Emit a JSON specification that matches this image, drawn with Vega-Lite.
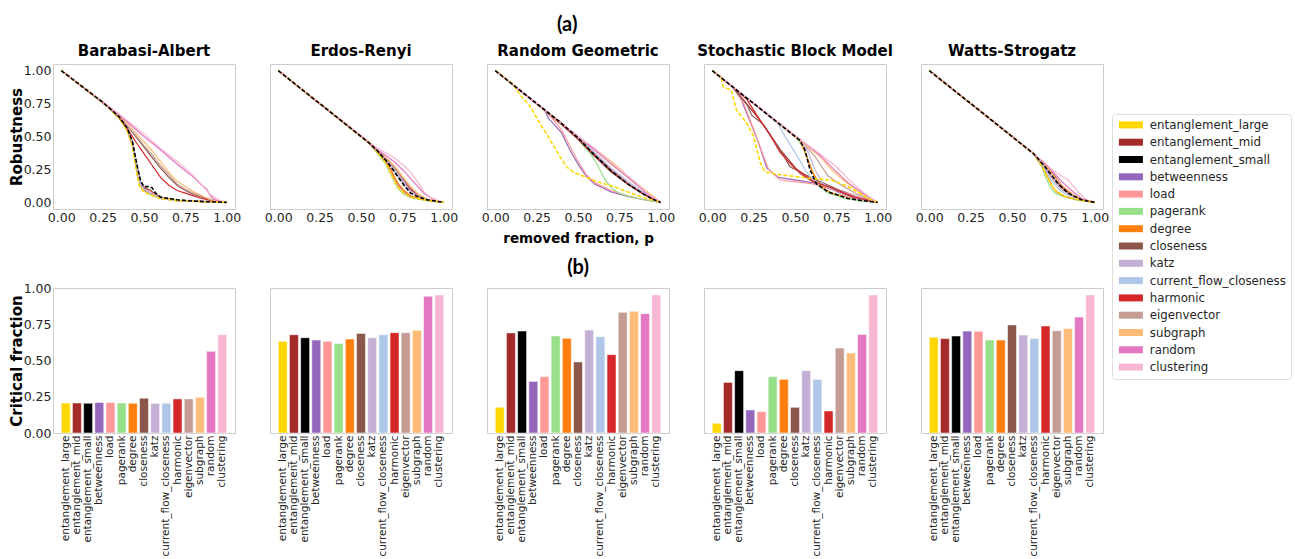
{
"$schema":"https://vega.github.io/schema/vega-lite/v6.json",
"autosize":{"type":"pad"},
"padding":{"left":8,"top":14,"right":4,"bottom":0},
"title":{"text":"(a)","font":"Lato","fontSize":20,"fontWeight":"bold","color":"#000000","anchor":"start","frame":"group","offset":9,"dx":504},
"datasets":{
"bars":[
{"g":"BA","m":"entanglement_large","cf":0.207},{"g":"BA","m":"entanglement_mid","cf":0.207},{"g":"BA","m":"entanglement_small","cf":0.205},{"g":"BA","m":"betweenness","cf":0.21},{"g":"BA","m":"load","cf":0.21},{"g":"BA","m":"pagerank","cf":0.207},{"g":"BA","m":"degree","cf":0.205},{"g":"BA","m":"closeness","cf":0.24},{"g":"BA","m":"katz","cf":0.205},{"g":"BA","m":"current_flow_closeness","cf":0.205},{"g":"BA","m":"harmonic","cf":0.235},{"g":"BA","m":"eigenvector","cf":0.235},{"g":"BA","m":"subgraph","cf":0.246},{"g":"BA","m":"random","cf":0.563},{"g":"BA","m":"clustering","cf":0.678},
{"g":"ER","m":"entanglement_large","cf":0.632},{"g":"ER","m":"entanglement_mid","cf":0.678},{"g":"ER","m":"entanglement_small","cf":0.657},{"g":"ER","m":"betweenness","cf":0.641},{"g":"ER","m":"load","cf":0.632},{"g":"ER","m":"pagerank","cf":0.618},{"g":"ER","m":"degree","cf":0.648},{"g":"ER","m":"closeness","cf":0.687},{"g":"ER","m":"katz","cf":0.657},{"g":"ER","m":"current_flow_closeness","cf":0.678},{"g":"ER","m":"harmonic","cf":0.692},{"g":"ER","m":"eigenvector","cf":0.692},{"g":"ER","m":"subgraph","cf":0.708},{"g":"ER","m":"random","cf":0.943},{"g":"ER","m":"clustering","cf":0.952},
{"g":"RG","m":"entanglement_large","cf":0.177},{"g":"RG","m":"entanglement_mid","cf":0.69},{"g":"RG","m":"entanglement_small","cf":0.703},{"g":"RG","m":"betweenness","cf":0.356},{"g":"RG","m":"load","cf":0.389},{"g":"RG","m":"pagerank","cf":0.669},{"g":"RG","m":"degree","cf":0.653},{"g":"RG","m":"closeness","cf":0.49},{"g":"RG","m":"katz","cf":0.71},{"g":"RG","m":"current_flow_closeness","cf":0.664},{"g":"RG","m":"harmonic","cf":0.54},{"g":"RG","m":"eigenvector","cf":0.832},{"g":"RG","m":"subgraph","cf":0.839},{"g":"RG","m":"random","cf":0.823},{"g":"RG","m":"clustering","cf":0.952},
{"g":"SBM","m":"entanglement_large","cf":0.067},{"g":"SBM","m":"entanglement_mid","cf":0.349},{"g":"SBM","m":"entanglement_small","cf":0.43},{"g":"SBM","m":"betweenness","cf":0.159},{"g":"SBM","m":"load","cf":0.147},{"g":"SBM","m":"pagerank","cf":0.389},{"g":"SBM","m":"degree","cf":0.37},{"g":"SBM","m":"closeness","cf":0.177},{"g":"SBM","m":"katz","cf":0.43},{"g":"SBM","m":"current_flow_closeness","cf":0.37},{"g":"SBM","m":"harmonic","cf":0.152},{"g":"SBM","m":"eigenvector","cf":0.586},{"g":"SBM","m":"subgraph","cf":0.552},{"g":"SBM","m":"random","cf":0.68},{"g":"SBM","m":"clustering","cf":0.952},
{"g":"WS","m":"entanglement_large","cf":0.66},{"g":"WS","m":"entanglement_mid","cf":0.651},{"g":"WS","m":"entanglement_small","cf":0.669},{"g":"WS","m":"betweenness","cf":0.703},{"g":"WS","m":"load","cf":0.701},{"g":"WS","m":"pagerank","cf":0.641},{"g":"WS","m":"degree","cf":0.641},{"g":"WS","m":"closeness","cf":0.745},{"g":"WS","m":"katz","cf":0.676},{"g":"WS","m":"current_flow_closeness","cf":0.651},{"g":"WS","m":"harmonic","cf":0.738},{"g":"WS","m":"eigenvector","cf":0.706},{"g":"WS","m":"subgraph","cf":0.72},{"g":"WS","m":"random","cf":0.8},{"g":"WS","m":"clustering","cf":0.952}
],
"lines":[
{"g":"BA","m":"entanglement_large","p":0,"r":1},{"g":"BA","m":"entanglement_large","p":0.25,"r":0.76},{"g":"BA","m":"entanglement_large","p":0.35,"r":0.64},{"g":"BA","m":"entanglement_large","p":0.4,"r":0.54},{"g":"BA","m":"entanglement_large","p":0.43,"r":0.43},{"g":"BA","m":"entanglement_large","p":0.45,"r":0.26},{"g":"BA","m":"entanglement_large","p":0.47,"r":0.13},{"g":"BA","m":"entanglement_large","p":0.5,"r":0.08},{"g":"BA","m":"entanglement_large","p":0.55,"r":0.05},{"g":"BA","m":"entanglement_large","p":0.6,"r":0.03},{"g":"BA","m":"entanglement_large","p":0.7,"r":0.015},{"g":"BA","m":"entanglement_large","p":0.85,"r":0.005},{"g":"BA","m":"entanglement_large","p":1,"r":0},
{"g":"BA","m":"entanglement_mid","p":0,"r":1},{"g":"BA","m":"entanglement_mid","p":0.25,"r":0.76},{"g":"BA","m":"entanglement_mid","p":0.35,"r":0.65},{"g":"BA","m":"entanglement_mid","p":0.4,"r":0.56},{"g":"BA","m":"entanglement_mid","p":0.43,"r":0.46},{"g":"BA","m":"entanglement_mid","p":0.46,"r":0.26},{"g":"BA","m":"entanglement_mid","p":0.48,"r":0.15},{"g":"BA","m":"entanglement_mid","p":0.5,"r":0.11},{"g":"BA","m":"entanglement_mid","p":0.54,"r":0.09},{"g":"BA","m":"entanglement_mid","p":0.57,"r":0.06},{"g":"BA","m":"entanglement_mid","p":0.62,"r":0.03},{"g":"BA","m":"entanglement_mid","p":0.7,"r":0.015},{"g":"BA","m":"entanglement_mid","p":0.85,"r":0.005},{"g":"BA","m":"entanglement_mid","p":1,"r":0},
{"g":"BA","m":"entanglement_small","p":0,"r":1},{"g":"BA","m":"entanglement_small","p":0.25,"r":0.76},{"g":"BA","m":"entanglement_small","p":0.35,"r":0.65},{"g":"BA","m":"entanglement_small","p":0.4,"r":0.56},{"g":"BA","m":"entanglement_small","p":0.43,"r":0.46},{"g":"BA","m":"entanglement_small","p":0.46,"r":0.27},{"g":"BA","m":"entanglement_small","p":0.48,"r":0.16},{"g":"BA","m":"entanglement_small","p":0.5,"r":0.12},{"g":"BA","m":"entanglement_small","p":0.53,"r":0.12},{"g":"BA","m":"entanglement_small","p":0.55,"r":0.11},{"g":"BA","m":"entanglement_small","p":0.57,"r":0.07},{"g":"BA","m":"entanglement_small","p":0.6,"r":0.04},{"g":"BA","m":"entanglement_small","p":0.7,"r":0.02},{"g":"BA","m":"entanglement_small","p":0.8,"r":0.01},{"g":"BA","m":"entanglement_small","p":1,"r":0},
{"g":"BA","m":"betweenness","p":0,"r":1},{"g":"BA","m":"betweenness","p":0.25,"r":0.76},{"g":"BA","m":"betweenness","p":0.35,"r":0.64},{"g":"BA","m":"betweenness","p":0.4,"r":0.55},{"g":"BA","m":"betweenness","p":0.43,"r":0.44},{"g":"BA","m":"betweenness","p":0.46,"r":0.24},{"g":"BA","m":"betweenness","p":0.48,"r":0.13},{"g":"BA","m":"betweenness","p":0.5,"r":0.1},{"g":"BA","m":"betweenness","p":0.55,"r":0.06},{"g":"BA","m":"betweenness","p":0.6,"r":0.03},{"g":"BA","m":"betweenness","p":0.7,"r":0.015},{"g":"BA","m":"betweenness","p":1,"r":0},
{"g":"BA","m":"load","p":0,"r":1},{"g":"BA","m":"load","p":0.25,"r":0.76},{"g":"BA","m":"load","p":0.35,"r":0.64},{"g":"BA","m":"load","p":0.4,"r":0.55},{"g":"BA","m":"load","p":0.43,"r":0.45},{"g":"BA","m":"load","p":0.46,"r":0.25},{"g":"BA","m":"load","p":0.48,"r":0.14},{"g":"BA","m":"load","p":0.5,"r":0.1},{"g":"BA","m":"load","p":0.55,"r":0.07},{"g":"BA","m":"load","p":0.6,"r":0.035},{"g":"BA","m":"load","p":0.7,"r":0.015},{"g":"BA","m":"load","p":1,"r":0},
{"g":"BA","m":"pagerank","p":0,"r":1},{"g":"BA","m":"pagerank","p":0.25,"r":0.76},{"g":"BA","m":"pagerank","p":0.35,"r":0.64},{"g":"BA","m":"pagerank","p":0.4,"r":0.55},{"g":"BA","m":"pagerank","p":0.43,"r":0.44},{"g":"BA","m":"pagerank","p":0.46,"r":0.23},{"g":"BA","m":"pagerank","p":0.48,"r":0.12},{"g":"BA","m":"pagerank","p":0.5,"r":0.09},{"g":"BA","m":"pagerank","p":0.55,"r":0.05},{"g":"BA","m":"pagerank","p":0.6,"r":0.03},{"g":"BA","m":"pagerank","p":0.7,"r":0.012},{"g":"BA","m":"pagerank","p":1,"r":0},
{"g":"BA","m":"degree","p":0,"r":1},{"g":"BA","m":"degree","p":0.25,"r":0.76},{"g":"BA","m":"degree","p":0.35,"r":0.64},{"g":"BA","m":"degree","p":0.4,"r":0.54},{"g":"BA","m":"degree","p":0.43,"r":0.43},{"g":"BA","m":"degree","p":0.46,"r":0.22},{"g":"BA","m":"degree","p":0.48,"r":0.12},{"g":"BA","m":"degree","p":0.5,"r":0.09},{"g":"BA","m":"degree","p":0.55,"r":0.06},{"g":"BA","m":"degree","p":0.6,"r":0.03},{"g":"BA","m":"degree","p":0.7,"r":0.012},{"g":"BA","m":"degree","p":1,"r":0},
{"g":"BA","m":"closeness","p":0,"r":1},{"g":"BA","m":"closeness","p":0.3,"r":0.71},{"g":"BA","m":"closeness","p":0.35,"r":0.65},{"g":"BA","m":"closeness","p":0.4,"r":0.58},{"g":"BA","m":"closeness","p":0.45,"r":0.5},{"g":"BA","m":"closeness","p":0.5,"r":0.42},{"g":"BA","m":"closeness","p":0.55,"r":0.34},{"g":"BA","m":"closeness","p":0.6,"r":0.26},{"g":"BA","m":"closeness","p":0.65,"r":0.19},{"g":"BA","m":"closeness","p":0.7,"r":0.13},{"g":"BA","m":"closeness","p":0.75,"r":0.09},{"g":"BA","m":"closeness","p":0.8,"r":0.06},{"g":"BA","m":"closeness","p":0.9,"r":0.02},{"g":"BA","m":"closeness","p":1,"r":0},
{"g":"BA","m":"katz","p":0,"r":1},{"g":"BA","m":"katz","p":0.25,"r":0.76},{"g":"BA","m":"katz","p":0.35,"r":0.64},{"g":"BA","m":"katz","p":0.4,"r":0.55},{"g":"BA","m":"katz","p":0.43,"r":0.44},{"g":"BA","m":"katz","p":0.46,"r":0.24},{"g":"BA","m":"katz","p":0.48,"r":0.13},{"g":"BA","m":"katz","p":0.5,"r":0.1},{"g":"BA","m":"katz","p":0.55,"r":0.06},{"g":"BA","m":"katz","p":0.6,"r":0.03},{"g":"BA","m":"katz","p":0.7,"r":0.013},{"g":"BA","m":"katz","p":1,"r":0},
{"g":"BA","m":"current_flow_closeness","p":0,"r":1},{"g":"BA","m":"current_flow_closeness","p":0.25,"r":0.76},{"g":"BA","m":"current_flow_closeness","p":0.35,"r":0.64},{"g":"BA","m":"current_flow_closeness","p":0.4,"r":0.55},{"g":"BA","m":"current_flow_closeness","p":0.43,"r":0.45},{"g":"BA","m":"current_flow_closeness","p":0.46,"r":0.25},{"g":"BA","m":"current_flow_closeness","p":0.48,"r":0.14},{"g":"BA","m":"current_flow_closeness","p":0.5,"r":0.1},{"g":"BA","m":"current_flow_closeness","p":0.55,"r":0.06},{"g":"BA","m":"current_flow_closeness","p":0.6,"r":0.03},{"g":"BA","m":"current_flow_closeness","p":0.7,"r":0.013},{"g":"BA","m":"current_flow_closeness","p":1,"r":0},
{"g":"BA","m":"harmonic","p":0,"r":1},{"g":"BA","m":"harmonic","p":0.3,"r":0.71},{"g":"BA","m":"harmonic","p":0.35,"r":0.64},{"g":"BA","m":"harmonic","p":0.4,"r":0.56},{"g":"BA","m":"harmonic","p":0.45,"r":0.46},{"g":"BA","m":"harmonic","p":0.5,"r":0.37},{"g":"BA","m":"harmonic","p":0.55,"r":0.28},{"g":"BA","m":"harmonic","p":0.6,"r":0.19},{"g":"BA","m":"harmonic","p":0.65,"r":0.13},{"g":"BA","m":"harmonic","p":0.7,"r":0.09},{"g":"BA","m":"harmonic","p":0.75,"r":0.07},{"g":"BA","m":"harmonic","p":0.8,"r":0.05},{"g":"BA","m":"harmonic","p":0.85,"r":0.03},{"g":"BA","m":"harmonic","p":0.9,"r":0.015},{"g":"BA","m":"harmonic","p":1,"r":0},
{"g":"BA","m":"eigenvector","p":0,"r":1},{"g":"BA","m":"eigenvector","p":0.3,"r":0.71},{"g":"BA","m":"eigenvector","p":0.35,"r":0.65},{"g":"BA","m":"eigenvector","p":0.4,"r":0.58},{"g":"BA","m":"eigenvector","p":0.45,"r":0.51},{"g":"BA","m":"eigenvector","p":0.5,"r":0.43},{"g":"BA","m":"eigenvector","p":0.55,"r":0.36},{"g":"BA","m":"eigenvector","p":0.6,"r":0.28},{"g":"BA","m":"eigenvector","p":0.65,"r":0.21},{"g":"BA","m":"eigenvector","p":0.7,"r":0.14},{"g":"BA","m":"eigenvector","p":0.75,"r":0.1},{"g":"BA","m":"eigenvector","p":0.8,"r":0.07},{"g":"BA","m":"eigenvector","p":0.9,"r":0.025},{"g":"BA","m":"eigenvector","p":1,"r":0},
{"g":"BA","m":"subgraph","p":0,"r":1},{"g":"BA","m":"subgraph","p":0.3,"r":0.71},{"g":"BA","m":"subgraph","p":0.4,"r":0.6},{"g":"BA","m":"subgraph","p":0.45,"r":0.53},{"g":"BA","m":"subgraph","p":0.5,"r":0.46},{"g":"BA","m":"subgraph","p":0.55,"r":0.39},{"g":"BA","m":"subgraph","p":0.6,"r":0.31},{"g":"BA","m":"subgraph","p":0.65,"r":0.23},{"g":"BA","m":"subgraph","p":0.7,"r":0.16},{"g":"BA","m":"subgraph","p":0.75,"r":0.12},{"g":"BA","m":"subgraph","p":0.8,"r":0.08},{"g":"BA","m":"subgraph","p":0.85,"r":0.05},{"g":"BA","m":"subgraph","p":0.9,"r":0.02},{"g":"BA","m":"subgraph","p":1,"r":0},
{"g":"BA","m":"random","p":0,"r":1},{"g":"BA","m":"random","p":0.3,"r":0.71},{"g":"BA","m":"random","p":0.4,"r":0.61},{"g":"BA","m":"random","p":0.5,"r":0.5},{"g":"BA","m":"random","p":0.6,"r":0.4},{"g":"BA","m":"random","p":0.7,"r":0.29},{"g":"BA","m":"random","p":0.8,"r":0.19},{"g":"BA","m":"random","p":0.85,"r":0.13},{"g":"BA","m":"random","p":0.88,"r":0.1},{"g":"BA","m":"random","p":0.9,"r":0.05},{"g":"BA","m":"random","p":0.93,"r":0.02},{"g":"BA","m":"random","p":0.96,"r":0.005},{"g":"BA","m":"random","p":1,"r":0},
{"g":"BA","m":"clustering","p":0,"r":1},{"g":"BA","m":"clustering","p":0.3,"r":0.72},{"g":"BA","m":"clustering","p":0.4,"r":0.62},{"g":"BA","m":"clustering","p":0.5,"r":0.52},{"g":"BA","m":"clustering","p":0.6,"r":0.41},{"g":"BA","m":"clustering","p":0.7,"r":0.31},{"g":"BA","m":"clustering","p":0.8,"r":0.2},{"g":"BA","m":"clustering","p":0.86,"r":0.12},{"g":"BA","m":"clustering","p":0.9,"r":0.06},{"g":"BA","m":"clustering","p":0.95,"r":0.02},{"g":"BA","m":"clustering","p":1,"r":0},

{"g":"ER","m":"entanglement_large","p":0,"r":1},{"g":"ER","m":"entanglement_large","p":0.55,"r":0.45},{"g":"ER","m":"entanglement_large","p":0.6,"r":0.38},{"g":"ER","m":"entanglement_large","p":0.65,"r":0.3},{"g":"ER","m":"entanglement_large","p":0.68,"r":0.22},{"g":"ER","m":"entanglement_large","p":0.72,"r":0.12},{"g":"ER","m":"entanglement_large","p":0.76,"r":0.07},{"g":"ER","m":"entanglement_large","p":0.8,"r":0.04},{"g":"ER","m":"entanglement_large","p":0.9,"r":0.015},{"g":"ER","m":"entanglement_large","p":1,"r":0},
{"g":"ER","m":"entanglement_mid","p":0,"r":1},{"g":"ER","m":"entanglement_mid","p":0.55,"r":0.45},{"g":"ER","m":"entanglement_mid","p":0.6,"r":0.39},{"g":"ER","m":"entanglement_mid","p":0.65,"r":0.33},{"g":"ER","m":"entanglement_mid","p":0.7,"r":0.26},{"g":"ER","m":"entanglement_mid","p":0.75,"r":0.17},{"g":"ER","m":"entanglement_mid","p":0.8,"r":0.09},{"g":"ER","m":"entanglement_mid","p":0.85,"r":0.05},{"g":"ER","m":"entanglement_mid","p":0.9,"r":0.02},{"g":"ER","m":"entanglement_mid","p":1,"r":0},
{"g":"ER","m":"entanglement_small","p":0,"r":1},{"g":"ER","m":"entanglement_small","p":0.55,"r":0.45},{"g":"ER","m":"entanglement_small","p":0.6,"r":0.39},{"g":"ER","m":"entanglement_small","p":0.65,"r":0.32},{"g":"ER","m":"entanglement_small","p":0.68,"r":0.27},{"g":"ER","m":"entanglement_small","p":0.72,"r":0.2},{"g":"ER","m":"entanglement_small","p":0.76,"r":0.13},{"g":"ER","m":"entanglement_small","p":0.8,"r":0.07},{"g":"ER","m":"entanglement_small","p":0.85,"r":0.04},{"g":"ER","m":"entanglement_small","p":0.9,"r":0.02},{"g":"ER","m":"entanglement_small","p":1,"r":0},
{"g":"ER","m":"betweenness","p":0,"r":1},{"g":"ER","m":"betweenness","p":0.55,"r":0.45},{"g":"ER","m":"betweenness","p":0.6,"r":0.38},{"g":"ER","m":"betweenness","p":0.65,"r":0.31},{"g":"ER","m":"betweenness","p":0.68,"r":0.24},{"g":"ER","m":"betweenness","p":0.72,"r":0.14},{"g":"ER","m":"betweenness","p":0.76,"r":0.08},{"g":"ER","m":"betweenness","p":0.8,"r":0.045},{"g":"ER","m":"betweenness","p":0.9,"r":0.015},{"g":"ER","m":"betweenness","p":1,"r":0},
{"g":"ER","m":"load","p":0,"r":1},{"g":"ER","m":"load","p":0.55,"r":0.45},{"g":"ER","m":"load","p":0.6,"r":0.38},{"g":"ER","m":"load","p":0.65,"r":0.3},{"g":"ER","m":"load","p":0.68,"r":0.23},{"g":"ER","m":"load","p":0.72,"r":0.13},{"g":"ER","m":"load","p":0.76,"r":0.075},{"g":"ER","m":"load","p":0.8,"r":0.04},{"g":"ER","m":"load","p":0.9,"r":0.015},{"g":"ER","m":"load","p":1,"r":0},
{"g":"ER","m":"pagerank","p":0,"r":1},{"g":"ER","m":"pagerank","p":0.55,"r":0.45},{"g":"ER","m":"pagerank","p":0.6,"r":0.37},{"g":"ER","m":"pagerank","p":0.65,"r":0.29},{"g":"ER","m":"pagerank","p":0.68,"r":0.21},{"g":"ER","m":"pagerank","p":0.72,"r":0.11},{"g":"ER","m":"pagerank","p":0.76,"r":0.06},{"g":"ER","m":"pagerank","p":0.8,"r":0.035},{"g":"ER","m":"pagerank","p":0.9,"r":0.012},{"g":"ER","m":"pagerank","p":1,"r":0},
{"g":"ER","m":"degree","p":0,"r":1},{"g":"ER","m":"degree","p":0.55,"r":0.45},{"g":"ER","m":"degree","p":0.6,"r":0.38},{"g":"ER","m":"degree","p":0.65,"r":0.31},{"g":"ER","m":"degree","p":0.68,"r":0.25},{"g":"ER","m":"degree","p":0.72,"r":0.15},{"g":"ER","m":"degree","p":0.76,"r":0.09},{"g":"ER","m":"degree","p":0.8,"r":0.05},{"g":"ER","m":"degree","p":0.9,"r":0.015},{"g":"ER","m":"degree","p":1,"r":0},
{"g":"ER","m":"closeness","p":0,"r":1},{"g":"ER","m":"closeness","p":0.55,"r":0.45},{"g":"ER","m":"closeness","p":0.6,"r":0.39},{"g":"ER","m":"closeness","p":0.65,"r":0.33},{"g":"ER","m":"closeness","p":0.7,"r":0.27},{"g":"ER","m":"closeness","p":0.75,"r":0.18},{"g":"ER","m":"closeness","p":0.8,"r":0.1},{"g":"ER","m":"closeness","p":0.85,"r":0.05},{"g":"ER","m":"closeness","p":0.9,"r":0.02},{"g":"ER","m":"closeness","p":1,"r":0},
{"g":"ER","m":"katz","p":0,"r":1},{"g":"ER","m":"katz","p":0.55,"r":0.45},{"g":"ER","m":"katz","p":0.6,"r":0.39},{"g":"ER","m":"katz","p":0.65,"r":0.32},{"g":"ER","m":"katz","p":0.7,"r":0.24},{"g":"ER","m":"katz","p":0.75,"r":0.15},{"g":"ER","m":"katz","p":0.8,"r":0.08},{"g":"ER","m":"katz","p":0.85,"r":0.045},{"g":"ER","m":"katz","p":0.9,"r":0.02},{"g":"ER","m":"katz","p":1,"r":0},
{"g":"ER","m":"current_flow_closeness","p":0,"r":1},{"g":"ER","m":"current_flow_closeness","p":0.55,"r":0.45},{"g":"ER","m":"current_flow_closeness","p":0.6,"r":0.39},{"g":"ER","m":"current_flow_closeness","p":0.65,"r":0.33},{"g":"ER","m":"current_flow_closeness","p":0.7,"r":0.26},{"g":"ER","m":"current_flow_closeness","p":0.75,"r":0.17},{"g":"ER","m":"current_flow_closeness","p":0.8,"r":0.09},{"g":"ER","m":"current_flow_closeness","p":0.85,"r":0.05},{"g":"ER","m":"current_flow_closeness","p":0.9,"r":0.02},{"g":"ER","m":"current_flow_closeness","p":1,"r":0},
{"g":"ER","m":"harmonic","p":0,"r":1},{"g":"ER","m":"harmonic","p":0.55,"r":0.45},{"g":"ER","m":"harmonic","p":0.6,"r":0.39},{"g":"ER","m":"harmonic","p":0.65,"r":0.33},{"g":"ER","m":"harmonic","p":0.7,"r":0.27},{"g":"ER","m":"harmonic","p":0.75,"r":0.19},{"g":"ER","m":"harmonic","p":0.8,"r":0.1},{"g":"ER","m":"harmonic","p":0.85,"r":0.05},{"g":"ER","m":"harmonic","p":0.9,"r":0.02},{"g":"ER","m":"harmonic","p":1,"r":0},
{"g":"ER","m":"eigenvector","p":0,"r":1},{"g":"ER","m":"eigenvector","p":0.55,"r":0.45},{"g":"ER","m":"eigenvector","p":0.6,"r":0.39},{"g":"ER","m":"eigenvector","p":0.65,"r":0.33},{"g":"ER","m":"eigenvector","p":0.7,"r":0.27},{"g":"ER","m":"eigenvector","p":0.75,"r":0.19},{"g":"ER","m":"eigenvector","p":0.8,"r":0.11},{"g":"ER","m":"eigenvector","p":0.85,"r":0.05},{"g":"ER","m":"eigenvector","p":0.9,"r":0.02},{"g":"ER","m":"eigenvector","p":1,"r":0},
{"g":"ER","m":"subgraph","p":0,"r":1},{"g":"ER","m":"subgraph","p":0.55,"r":0.45},{"g":"ER","m":"subgraph","p":0.6,"r":0.4},{"g":"ER","m":"subgraph","p":0.65,"r":0.34},{"g":"ER","m":"subgraph","p":0.7,"r":0.28},{"g":"ER","m":"subgraph","p":0.75,"r":0.2},{"g":"ER","m":"subgraph","p":0.8,"r":0.12},{"g":"ER","m":"subgraph","p":0.85,"r":0.06},{"g":"ER","m":"subgraph","p":0.9,"r":0.025},{"g":"ER","m":"subgraph","p":1,"r":0},
{"g":"ER","m":"random","p":0,"r":1},{"g":"ER","m":"random","p":0.55,"r":0.45},{"g":"ER","m":"random","p":0.6,"r":0.4},{"g":"ER","m":"random","p":0.7,"r":0.31},{"g":"ER","m":"random","p":0.75,"r":0.25},{"g":"ER","m":"random","p":0.8,"r":0.18},{"g":"ER","m":"random","p":0.85,"r":0.11},{"g":"ER","m":"random","p":0.88,"r":0.07},{"g":"ER","m":"random","p":0.92,"r":0.035},{"g":"ER","m":"random","p":0.96,"r":0.012},{"g":"ER","m":"random","p":1,"r":0},
{"g":"ER","m":"clustering","p":0,"r":1},{"g":"ER","m":"clustering","p":0.55,"r":0.46},{"g":"ER","m":"clustering","p":0.6,"r":0.41},{"g":"ER","m":"clustering","p":0.7,"r":0.34},{"g":"ER","m":"clustering","p":0.75,"r":0.29},{"g":"ER","m":"clustering","p":0.8,"r":0.23},{"g":"ER","m":"clustering","p":0.85,"r":0.14},{"g":"ER","m":"clustering","p":0.88,"r":0.08},{"g":"ER","m":"clustering","p":0.92,"r":0.04},{"g":"ER","m":"clustering","p":0.96,"r":0.015},{"g":"ER","m":"clustering","p":1,"r":0},

{"g":"RG","m":"entanglement_large","p":0,"r":1},{"g":"RG","m":"entanglement_large","p":0.105,"r":0.9},{"g":"RG","m":"entanglement_large","p":0.15,"r":0.815},{"g":"RG","m":"entanglement_large","p":0.21,"r":0.73},{"g":"RG","m":"entanglement_large","p":0.26,"r":0.62},{"g":"RG","m":"entanglement_large","p":0.31,"r":0.52},{"g":"RG","m":"entanglement_large","p":0.35,"r":0.435},{"g":"RG","m":"entanglement_large","p":0.4,"r":0.33},{"g":"RG","m":"entanglement_large","p":0.43,"r":0.27},{"g":"RG","m":"entanglement_large","p":0.47,"r":0.23},{"g":"RG","m":"entanglement_large","p":0.51,"r":0.21},{"g":"RG","m":"entanglement_large","p":0.61,"r":0.16},{"g":"RG","m":"entanglement_large","p":0.715,"r":0.12},{"g":"RG","m":"entanglement_large","p":0.82,"r":0.07},{"g":"RG","m":"entanglement_large","p":0.9,"r":0.035},{"g":"RG","m":"entanglement_large","p":1,"r":0},
{"g":"RG","m":"entanglement_mid","p":0,"r":1},{"g":"RG","m":"entanglement_mid","p":0.2,"r":0.8},{"g":"RG","m":"entanglement_mid","p":0.4,"r":0.6},{"g":"RG","m":"entanglement_mid","p":0.5,"r":0.49},{"g":"RG","m":"entanglement_mid","p":0.6,"r":0.37},{"g":"RG","m":"entanglement_mid","p":0.7,"r":0.25},{"g":"RG","m":"entanglement_mid","p":0.8,"r":0.15},{"g":"RG","m":"entanglement_mid","p":0.9,"r":0.07},{"g":"RG","m":"entanglement_mid","p":0.95,"r":0.03},{"g":"RG","m":"entanglement_mid","p":1,"r":0},
{"g":"RG","m":"entanglement_small","p":0,"r":1},{"g":"RG","m":"entanglement_small","p":0.2,"r":0.8},{"g":"RG","m":"entanglement_small","p":0.4,"r":0.6},{"g":"RG","m":"entanglement_small","p":0.5,"r":0.49},{"g":"RG","m":"entanglement_small","p":0.6,"r":0.36},{"g":"RG","m":"entanglement_small","p":0.7,"r":0.24},{"g":"RG","m":"entanglement_small","p":0.8,"r":0.14},{"g":"RG","m":"entanglement_small","p":0.9,"r":0.06},{"g":"RG","m":"entanglement_small","p":0.95,"r":0.025},{"g":"RG","m":"entanglement_small","p":1,"r":0},
{"g":"RG","m":"betweenness","p":0,"r":1},{"g":"RG","m":"betweenness","p":0.3,"r":0.7},{"g":"RG","m":"betweenness","p":0.32,"r":0.64},{"g":"RG","m":"betweenness","p":0.35,"r":0.6},{"g":"RG","m":"betweenness","p":0.4,"r":0.53},{"g":"RG","m":"betweenness","p":0.45,"r":0.4},{"g":"RG","m":"betweenness","p":0.5,"r":0.29},{"g":"RG","m":"betweenness","p":0.55,"r":0.2},{"g":"RG","m":"betweenness","p":0.6,"r":0.14},{"g":"RG","m":"betweenness","p":0.7,"r":0.08},{"g":"RG","m":"betweenness","p":0.8,"r":0.045},{"g":"RG","m":"betweenness","p":0.9,"r":0.02},{"g":"RG","m":"betweenness","p":1,"r":0},
{"g":"RG","m":"load","p":0,"r":1},{"g":"RG","m":"load","p":0.3,"r":0.7},{"g":"RG","m":"load","p":0.35,"r":0.63},{"g":"RG","m":"load","p":0.4,"r":0.55},{"g":"RG","m":"load","p":0.45,"r":0.43},{"g":"RG","m":"load","p":0.5,"r":0.31},{"g":"RG","m":"load","p":0.55,"r":0.21},{"g":"RG","m":"load","p":0.6,"r":0.15},{"g":"RG","m":"load","p":0.7,"r":0.09},{"g":"RG","m":"load","p":0.8,"r":0.05},{"g":"RG","m":"load","p":0.9,"r":0.02},{"g":"RG","m":"load","p":1,"r":0},
{"g":"RG","m":"pagerank","p":0,"r":1},{"g":"RG","m":"pagerank","p":0.5,"r":0.49},{"g":"RG","m":"pagerank","p":0.52,"r":0.45},{"g":"RG","m":"pagerank","p":0.58,"r":0.36},{"g":"RG","m":"pagerank","p":0.62,"r":0.28},{"g":"RG","m":"pagerank","p":0.66,"r":0.18},{"g":"RG","m":"pagerank","p":0.7,"r":0.11},{"g":"RG","m":"pagerank","p":0.75,"r":0.07},{"g":"RG","m":"pagerank","p":0.8,"r":0.05},{"g":"RG","m":"pagerank","p":0.9,"r":0.02},{"g":"RG","m":"pagerank","p":1,"r":0},
{"g":"RG","m":"degree","p":0,"r":1},{"g":"RG","m":"degree","p":0.2,"r":0.8},{"g":"RG","m":"degree","p":0.4,"r":0.6},{"g":"RG","m":"degree","p":0.5,"r":0.49},{"g":"RG","m":"degree","p":0.6,"r":0.37},{"g":"RG","m":"degree","p":0.7,"r":0.24},{"g":"RG","m":"degree","p":0.8,"r":0.14},{"g":"RG","m":"degree","p":0.9,"r":0.06},{"g":"RG","m":"degree","p":1,"r":0},
{"g":"RG","m":"closeness","p":0,"r":1},{"g":"RG","m":"closeness","p":0.2,"r":0.8},{"g":"RG","m":"closeness","p":0.4,"r":0.6},{"g":"RG","m":"closeness","p":0.5,"r":0.48},{"g":"RG","m":"closeness","p":0.6,"r":0.35},{"g":"RG","m":"closeness","p":0.7,"r":0.23},{"g":"RG","m":"closeness","p":0.8,"r":0.14},{"g":"RG","m":"closeness","p":0.9,"r":0.06},{"g":"RG","m":"closeness","p":1,"r":0},
{"g":"RG","m":"katz","p":0,"r":1},{"g":"RG","m":"katz","p":0.2,"r":0.8},{"g":"RG","m":"katz","p":0.4,"r":0.6},{"g":"RG","m":"katz","p":0.5,"r":0.5},{"g":"RG","m":"katz","p":0.6,"r":0.38},{"g":"RG","m":"katz","p":0.7,"r":0.26},{"g":"RG","m":"katz","p":0.8,"r":0.16},{"g":"RG","m":"katz","p":0.9,"r":0.07},{"g":"RG","m":"katz","p":1,"r":0},
{"g":"RG","m":"current_flow_closeness","p":0,"r":1},{"g":"RG","m":"current_flow_closeness","p":0.2,"r":0.8},{"g":"RG","m":"current_flow_closeness","p":0.4,"r":0.6},{"g":"RG","m":"current_flow_closeness","p":0.5,"r":0.49},{"g":"RG","m":"current_flow_closeness","p":0.6,"r":0.37},{"g":"RG","m":"current_flow_closeness","p":0.7,"r":0.25},{"g":"RG","m":"current_flow_closeness","p":0.8,"r":0.15},{"g":"RG","m":"current_flow_closeness","p":0.9,"r":0.07},{"g":"RG","m":"current_flow_closeness","p":1,"r":0},
{"g":"RG","m":"harmonic","p":0,"r":1},{"g":"RG","m":"harmonic","p":0.2,"r":0.8},{"g":"RG","m":"harmonic","p":0.4,"r":0.59},{"g":"RG","m":"harmonic","p":0.5,"r":0.48},{"g":"RG","m":"harmonic","p":0.6,"r":0.36},{"g":"RG","m":"harmonic","p":0.7,"r":0.24},{"g":"RG","m":"harmonic","p":0.8,"r":0.14},{"g":"RG","m":"harmonic","p":0.9,"r":0.06},{"g":"RG","m":"harmonic","p":1,"r":0},
{"g":"RG","m":"eigenvector","p":0,"r":1},{"g":"RG","m":"eigenvector","p":0.5,"r":0.5},{"g":"RG","m":"eigenvector","p":0.6,"r":0.4},{"g":"RG","m":"eigenvector","p":0.7,"r":0.29},{"g":"RG","m":"eigenvector","p":0.8,"r":0.19},{"g":"RG","m":"eigenvector","p":0.85,"r":0.14},{"g":"RG","m":"eigenvector","p":0.9,"r":0.09},{"g":"RG","m":"eigenvector","p":0.95,"r":0.04},{"g":"RG","m":"eigenvector","p":1,"r":0},
{"g":"RG","m":"subgraph","p":0,"r":1},{"g":"RG","m":"subgraph","p":0.5,"r":0.5},{"g":"RG","m":"subgraph","p":0.6,"r":0.41},{"g":"RG","m":"subgraph","p":0.7,"r":0.31},{"g":"RG","m":"subgraph","p":0.75,"r":0.26},{"g":"RG","m":"subgraph","p":0.8,"r":0.2},{"g":"RG","m":"subgraph","p":0.85,"r":0.15},{"g":"RG","m":"subgraph","p":0.9,"r":0.1},{"g":"RG","m":"subgraph","p":0.95,"r":0.05},{"g":"RG","m":"subgraph","p":1,"r":0},
{"g":"RG","m":"random","p":0,"r":1},{"g":"RG","m":"random","p":0.5,"r":0.5},{"g":"RG","m":"random","p":0.6,"r":0.4},{"g":"RG","m":"random","p":0.7,"r":0.3},{"g":"RG","m":"random","p":0.8,"r":0.19},{"g":"RG","m":"random","p":0.85,"r":0.14},{"g":"RG","m":"random","p":0.9,"r":0.08},{"g":"RG","m":"random","p":0.95,"r":0.04},{"g":"RG","m":"random","p":1,"r":0},
{"g":"RG","m":"clustering","p":0,"r":1},{"g":"RG","m":"clustering","p":0.5,"r":0.5},{"g":"RG","m":"clustering","p":0.6,"r":0.41},{"g":"RG","m":"clustering","p":0.7,"r":0.3},{"g":"RG","m":"clustering","p":0.8,"r":0.2},{"g":"RG","m":"clustering","p":0.85,"r":0.15},{"g":"RG","m":"clustering","p":0.9,"r":0.09},{"g":"RG","m":"clustering","p":0.95,"r":0.04},{"g":"RG","m":"clustering","p":1,"r":0},

{"g":"SBM","m":"entanglement_large","p":0,"r":1},{"g":"SBM","m":"entanglement_large","p":0.055,"r":0.95},{"g":"SBM","m":"entanglement_large","p":0.065,"r":0.88},{"g":"SBM","m":"entanglement_large","p":0.115,"r":0.85},{"g":"SBM","m":"entanglement_large","p":0.146,"r":0.7},{"g":"SBM","m":"entanglement_large","p":0.21,"r":0.6},{"g":"SBM","m":"entanglement_large","p":0.25,"r":0.5},{"g":"SBM","m":"entanglement_large","p":0.29,"r":0.3},{"g":"SBM","m":"entanglement_large","p":0.32,"r":0.23},{"g":"SBM","m":"entanglement_large","p":0.41,"r":0.21},{"g":"SBM","m":"entanglement_large","p":0.61,"r":0.18},{"g":"SBM","m":"entanglement_large","p":0.72,"r":0.17},{"g":"SBM","m":"entanglement_large","p":0.82,"r":0.12},{"g":"SBM","m":"entanglement_large","p":0.96,"r":0.02},{"g":"SBM","m":"entanglement_large","p":1,"r":0},
{"g":"SBM","m":"entanglement_mid","p":0,"r":1},{"g":"SBM","m":"entanglement_mid","p":0.12,"r":0.88},{"g":"SBM","m":"entanglement_mid","p":0.2,"r":0.76},{"g":"SBM","m":"entanglement_mid","p":0.29,"r":0.62},{"g":"SBM","m":"entanglement_mid","p":0.41,"r":0.4},{"g":"SBM","m":"entanglement_mid","p":0.53,"r":0.22},{"g":"SBM","m":"entanglement_mid","p":0.63,"r":0.14},{"g":"SBM","m":"entanglement_mid","p":0.72,"r":0.1},{"g":"SBM","m":"entanglement_mid","p":0.85,"r":0.04},{"g":"SBM","m":"entanglement_mid","p":1,"r":0},
{"g":"SBM","m":"entanglement_small","p":0,"r":1},{"g":"SBM","m":"entanglement_small","p":0.53,"r":0.47},{"g":"SBM","m":"entanglement_small","p":0.56,"r":0.4},{"g":"SBM","m":"entanglement_small","p":0.59,"r":0.25},{"g":"SBM","m":"entanglement_small","p":0.63,"r":0.14},{"g":"SBM","m":"entanglement_small","p":0.7,"r":0.08},{"g":"SBM","m":"entanglement_small","p":0.82,"r":0.03},{"g":"SBM","m":"entanglement_small","p":0.9,"r":0.015},{"g":"SBM","m":"entanglement_small","p":1,"r":0},
{"g":"SBM","m":"betweenness","p":0,"r":1},{"g":"SBM","m":"betweenness","p":0.12,"r":0.88},{"g":"SBM","m":"betweenness","p":0.17,"r":0.8},{"g":"SBM","m":"betweenness","p":0.2,"r":0.7},{"g":"SBM","m":"betweenness","p":0.24,"r":0.58},{"g":"SBM","m":"betweenness","p":0.28,"r":0.45},{"g":"SBM","m":"betweenness","p":0.33,"r":0.26},{"g":"SBM","m":"betweenness","p":0.4,"r":0.19},{"g":"SBM","m":"betweenness","p":0.6,"r":0.15},{"g":"SBM","m":"betweenness","p":0.8,"r":0.08},{"g":"SBM","m":"betweenness","p":0.9,"r":0.03},{"g":"SBM","m":"betweenness","p":1,"r":0},
{"g":"SBM","m":"load","p":0,"r":1},{"g":"SBM","m":"load","p":0.12,"r":0.88},{"g":"SBM","m":"load","p":0.19,"r":0.75},{"g":"SBM","m":"load","p":0.23,"r":0.62},{"g":"SBM","m":"load","p":0.29,"r":0.42},{"g":"SBM","m":"load","p":0.34,"r":0.25},{"g":"SBM","m":"load","p":0.41,"r":0.17},{"g":"SBM","m":"load","p":0.61,"r":0.14},{"g":"SBM","m":"load","p":0.82,"r":0.07},{"g":"SBM","m":"load","p":0.95,"r":0.02},{"g":"SBM","m":"load","p":1,"r":0},
{"g":"SBM","m":"pagerank","p":0,"r":1},{"g":"SBM","m":"pagerank","p":0.5,"r":0.5},{"g":"SBM","m":"pagerank","p":0.55,"r":0.42},{"g":"SBM","m":"pagerank","p":0.6,"r":0.25},{"g":"SBM","m":"pagerank","p":0.65,"r":0.12},{"g":"SBM","m":"pagerank","p":0.7,"r":0.07},{"g":"SBM","m":"pagerank","p":0.8,"r":0.03},{"g":"SBM","m":"pagerank","p":0.9,"r":0.01},{"g":"SBM","m":"pagerank","p":1,"r":0},
{"g":"SBM","m":"degree","p":0,"r":1},{"g":"SBM","m":"degree","p":0.53,"r":0.47},{"g":"SBM","m":"degree","p":0.57,"r":0.35},{"g":"SBM","m":"degree","p":0.61,"r":0.22},{"g":"SBM","m":"degree","p":0.66,"r":0.12},{"g":"SBM","m":"degree","p":0.72,"r":0.07},{"g":"SBM","m":"degree","p":0.85,"r":0.03},{"g":"SBM","m":"degree","p":1,"r":0},
{"g":"SBM","m":"closeness","p":0,"r":1},{"g":"SBM","m":"closeness","p":0.12,"r":0.88},{"g":"SBM","m":"closeness","p":0.21,"r":0.74},{"g":"SBM","m":"closeness","p":0.24,"r":0.66},{"g":"SBM","m":"closeness","p":0.31,"r":0.59},{"g":"SBM","m":"closeness","p":0.41,"r":0.4},{"g":"SBM","m":"closeness","p":0.47,"r":0.27},{"g":"SBM","m":"closeness","p":0.61,"r":0.18},{"g":"SBM","m":"closeness","p":0.72,"r":0.12},{"g":"SBM","m":"closeness","p":0.86,"r":0.04},{"g":"SBM","m":"closeness","p":1,"r":0},
{"g":"SBM","m":"katz","p":0,"r":1},{"g":"SBM","m":"katz","p":0.55,"r":0.45},{"g":"SBM","m":"katz","p":0.58,"r":0.38},{"g":"SBM","m":"katz","p":0.62,"r":0.25},{"g":"SBM","m":"katz","p":0.67,"r":0.14},{"g":"SBM","m":"katz","p":0.75,"r":0.08},{"g":"SBM","m":"katz","p":0.85,"r":0.03},{"g":"SBM","m":"katz","p":1,"r":0},
{"g":"SBM","m":"current_flow_closeness","p":0,"r":1},{"g":"SBM","m":"current_flow_closeness","p":0.39,"r":0.61},{"g":"SBM","m":"current_flow_closeness","p":0.44,"r":0.5},{"g":"SBM","m":"current_flow_closeness","p":0.49,"r":0.4},{"g":"SBM","m":"current_flow_closeness","p":0.57,"r":0.23},{"g":"SBM","m":"current_flow_closeness","p":0.61,"r":0.17},{"g":"SBM","m":"current_flow_closeness","p":0.72,"r":0.11},{"g":"SBM","m":"current_flow_closeness","p":0.85,"r":0.05},{"g":"SBM","m":"current_flow_closeness","p":1,"r":0},
{"g":"SBM","m":"harmonic","p":0,"r":1},{"g":"SBM","m":"harmonic","p":0.12,"r":0.88},{"g":"SBM","m":"harmonic","p":0.21,"r":0.78},{"g":"SBM","m":"harmonic","p":0.27,"r":0.66},{"g":"SBM","m":"harmonic","p":0.35,"r":0.51},{"g":"SBM","m":"harmonic","p":0.41,"r":0.38},{"g":"SBM","m":"harmonic","p":0.49,"r":0.27},{"g":"SBM","m":"harmonic","p":0.61,"r":0.16},{"g":"SBM","m":"harmonic","p":0.72,"r":0.11},{"g":"SBM","m":"harmonic","p":0.86,"r":0.04},{"g":"SBM","m":"harmonic","p":1,"r":0},
{"g":"SBM","m":"eigenvector","p":0,"r":1},{"g":"SBM","m":"eigenvector","p":0.55,"r":0.45},{"g":"SBM","m":"eigenvector","p":0.62,"r":0.35},{"g":"SBM","m":"eigenvector","p":0.7,"r":0.2},{"g":"SBM","m":"eigenvector","p":0.78,"r":0.13},{"g":"SBM","m":"eigenvector","p":0.88,"r":0.06},{"g":"SBM","m":"eigenvector","p":1,"r":0},
{"g":"SBM","m":"subgraph","p":0,"r":1},{"g":"SBM","m":"subgraph","p":0.55,"r":0.45},{"g":"SBM","m":"subgraph","p":0.65,"r":0.35},{"g":"SBM","m":"subgraph","p":0.72,"r":0.25},{"g":"SBM","m":"subgraph","p":0.8,"r":0.16},{"g":"SBM","m":"subgraph","p":0.9,"r":0.07},{"g":"SBM","m":"subgraph","p":1,"r":0},
{"g":"SBM","m":"random","p":0,"r":1},{"g":"SBM","m":"random","p":0.55,"r":0.46},{"g":"SBM","m":"random","p":0.65,"r":0.36},{"g":"SBM","m":"random","p":0.72,"r":0.27},{"g":"SBM","m":"random","p":0.82,"r":0.15},{"g":"SBM","m":"random","p":0.92,"r":0.06},{"g":"SBM","m":"random","p":1,"r":0},
{"g":"SBM","m":"clustering","p":0,"r":1},{"g":"SBM","m":"clustering","p":0.55,"r":0.46},{"g":"SBM","m":"clustering","p":0.65,"r":0.37},{"g":"SBM","m":"clustering","p":0.75,"r":0.27},{"g":"SBM","m":"clustering","p":0.82,"r":0.18},{"g":"SBM","m":"clustering","p":0.9,"r":0.09},{"g":"SBM","m":"clustering","p":0.95,"r":0.04},{"g":"SBM","m":"clustering","p":1,"r":0},

{"g":"WS","m":"entanglement_large","p":0,"r":1},{"g":"WS","m":"entanglement_large","p":0.63,"r":0.37},{"g":"WS","m":"entanglement_large","p":0.68,"r":0.28},{"g":"WS","m":"entanglement_large","p":0.71,"r":0.2},{"g":"WS","m":"entanglement_large","p":0.74,"r":0.13},{"g":"WS","m":"entanglement_large","p":0.77,"r":0.08},{"g":"WS","m":"entanglement_large","p":0.82,"r":0.045},{"g":"WS","m":"entanglement_large","p":0.9,"r":0.02},{"g":"WS","m":"entanglement_large","p":1,"r":0},
{"g":"WS","m":"entanglement_mid","p":0,"r":1},{"g":"WS","m":"entanglement_mid","p":0.63,"r":0.37},{"g":"WS","m":"entanglement_mid","p":0.7,"r":0.26},{"g":"WS","m":"entanglement_mid","p":0.75,"r":0.17},{"g":"WS","m":"entanglement_mid","p":0.8,"r":0.1},{"g":"WS","m":"entanglement_mid","p":0.86,"r":0.05},{"g":"WS","m":"entanglement_mid","p":0.92,"r":0.02},{"g":"WS","m":"entanglement_mid","p":1,"r":0},
{"g":"WS","m":"entanglement_small","p":0,"r":1},{"g":"WS","m":"entanglement_small","p":0.63,"r":0.37},{"g":"WS","m":"entanglement_small","p":0.7,"r":0.27},{"g":"WS","m":"entanglement_small","p":0.78,"r":0.14},{"g":"WS","m":"entanglement_small","p":0.84,"r":0.07},{"g":"WS","m":"entanglement_small","p":0.92,"r":0.02},{"g":"WS","m":"entanglement_small","p":1,"r":0},
{"g":"WS","m":"betweenness","p":0,"r":1},{"g":"WS","m":"betweenness","p":0.63,"r":0.37},{"g":"WS","m":"betweenness","p":0.7,"r":0.28},{"g":"WS","m":"betweenness","p":0.76,"r":0.18},{"g":"WS","m":"betweenness","p":0.8,"r":0.11},{"g":"WS","m":"betweenness","p":0.86,"r":0.05},{"g":"WS","m":"betweenness","p":0.92,"r":0.02},{"g":"WS","m":"betweenness","p":1,"r":0},
{"g":"WS","m":"load","p":0,"r":1},{"g":"WS","m":"load","p":0.63,"r":0.37},{"g":"WS","m":"load","p":0.7,"r":0.28},{"g":"WS","m":"load","p":0.76,"r":0.18},{"g":"WS","m":"load","p":0.8,"r":0.12},{"g":"WS","m":"load","p":0.86,"r":0.05},{"g":"WS","m":"load","p":0.92,"r":0.02},{"g":"WS","m":"load","p":1,"r":0},
{"g":"WS","m":"pagerank","p":0,"r":1},{"g":"WS","m":"pagerank","p":0.63,"r":0.37},{"g":"WS","m":"pagerank","p":0.68,"r":0.27},{"g":"WS","m":"pagerank","p":0.7,"r":0.2},{"g":"WS","m":"pagerank","p":0.73,"r":0.12},{"g":"WS","m":"pagerank","p":0.76,"r":0.07},{"g":"WS","m":"pagerank","p":0.82,"r":0.04},{"g":"WS","m":"pagerank","p":0.9,"r":0.015},{"g":"WS","m":"pagerank","p":1,"r":0},
{"g":"WS","m":"degree","p":0,"r":1},{"g":"WS","m":"degree","p":0.63,"r":0.37},{"g":"WS","m":"degree","p":0.68,"r":0.28},{"g":"WS","m":"degree","p":0.71,"r":0.21},{"g":"WS","m":"degree","p":0.74,"r":0.13},{"g":"WS","m":"degree","p":0.77,"r":0.08},{"g":"WS","m":"degree","p":0.82,"r":0.045},{"g":"WS","m":"degree","p":0.9,"r":0.02},{"g":"WS","m":"degree","p":1,"r":0},
{"g":"WS","m":"closeness","p":0,"r":1},{"g":"WS","m":"closeness","p":0.63,"r":0.37},{"g":"WS","m":"closeness","p":0.7,"r":0.29},{"g":"WS","m":"closeness","p":0.76,"r":0.2},{"g":"WS","m":"closeness","p":0.8,"r":0.13},{"g":"WS","m":"closeness","p":0.86,"r":0.06},{"g":"WS","m":"closeness","p":0.92,"r":0.025},{"g":"WS","m":"closeness","p":1,"r":0},
{"g":"WS","m":"katz","p":0,"r":1},{"g":"WS","m":"katz","p":0.63,"r":0.37},{"g":"WS","m":"katz","p":0.7,"r":0.27},{"g":"WS","m":"katz","p":0.75,"r":0.17},{"g":"WS","m":"katz","p":0.8,"r":0.1},{"g":"WS","m":"katz","p":0.86,"r":0.05},{"g":"WS","m":"katz","p":0.92,"r":0.02},{"g":"WS","m":"katz","p":1,"r":0},
{"g":"WS","m":"current_flow_closeness","p":0,"r":1},{"g":"WS","m":"current_flow_closeness","p":0.63,"r":0.37},{"g":"WS","m":"current_flow_closeness","p":0.69,"r":0.27},{"g":"WS","m":"current_flow_closeness","p":0.74,"r":0.16},{"g":"WS","m":"current_flow_closeness","p":0.79,"r":0.09},{"g":"WS","m":"current_flow_closeness","p":0.85,"r":0.045},{"g":"WS","m":"current_flow_closeness","p":0.92,"r":0.02},{"g":"WS","m":"current_flow_closeness","p":1,"r":0},
{"g":"WS","m":"harmonic","p":0,"r":1},{"g":"WS","m":"harmonic","p":0.63,"r":0.37},{"g":"WS","m":"harmonic","p":0.7,"r":0.29},{"g":"WS","m":"harmonic","p":0.76,"r":0.19},{"g":"WS","m":"harmonic","p":0.8,"r":0.12},{"g":"WS","m":"harmonic","p":0.86,"r":0.06},{"g":"WS","m":"harmonic","p":0.92,"r":0.02},{"g":"WS","m":"harmonic","p":1,"r":0},
{"g":"WS","m":"eigenvector","p":0,"r":1},{"g":"WS","m":"eigenvector","p":0.63,"r":0.37},{"g":"WS","m":"eigenvector","p":0.7,"r":0.28},{"g":"WS","m":"eigenvector","p":0.76,"r":0.18},{"g":"WS","m":"eigenvector","p":0.8,"r":0.11},{"g":"WS","m":"eigenvector","p":0.86,"r":0.055},{"g":"WS","m":"eigenvector","p":0.92,"r":0.02},{"g":"WS","m":"eigenvector","p":1,"r":0},
{"g":"WS","m":"subgraph","p":0,"r":1},{"g":"WS","m":"subgraph","p":0.63,"r":0.37},{"g":"WS","m":"subgraph","p":0.7,"r":0.29},{"g":"WS","m":"subgraph","p":0.76,"r":0.19},{"g":"WS","m":"subgraph","p":0.81,"r":0.12},{"g":"WS","m":"subgraph","p":0.87,"r":0.06},{"g":"WS","m":"subgraph","p":0.93,"r":0.02},{"g":"WS","m":"subgraph","p":1,"r":0},
{"g":"WS","m":"random","p":0,"r":1},{"g":"WS","m":"random","p":0.63,"r":0.37},{"g":"WS","m":"random","p":0.72,"r":0.27},{"g":"WS","m":"random","p":0.8,"r":0.16},{"g":"WS","m":"random","p":0.86,"r":0.09},{"g":"WS","m":"random","p":0.92,"r":0.03},{"g":"WS","m":"random","p":1,"r":0},
{"g":"WS","m":"clustering","p":0,"r":1},{"g":"WS","m":"clustering","p":0.63,"r":0.37},{"g":"WS","m":"clustering","p":0.7,"r":0.3},{"g":"WS","m":"clustering","p":0.74,"r":0.25},{"g":"WS","m":"clustering","p":0.8,"r":0.2},{"g":"WS","m":"clustering","p":0.84,"r":0.17},{"g":"WS","m":"clustering","p":0.9,"r":0.08},{"g":"WS","m":"clustering","p":0.95,"r":0.02},{"g":"WS","m":"clustering","p":1,"r":0}
]
},
"columns":5,
"spacing":{"row":79,"column":35},
"bounds":"flush",
"concat":[
{"width":182,"height":145,"title":"Barabasi-Albert","data":{"name":"lines"},"transform":[{"filter":{"field":"g","equal":"BA"}}],
"encoding":{"x":{"field":"p","type":"quantitative","scale":{"domain":[-0.05,1.05],"nice":false,"zero":false},"axis":{"values":[0,0.25,0.5,0.75,1],"format":".2f","title":null,"labelOverlap":false}},
"y":{"field":"r","type":"quantitative","scale":{"domain":[-0.05,1.05],"nice":false,"zero":false},"axis":{"values":[0,0.25,0.5,0.75,1],"format":".2f","title":"Robustness","labelOverlap":false}},
"color":{"field":"m","type":"nominal","scale":{"domain":["entanglement_large","entanglement_mid","entanglement_small","betweenness","load","pagerank","degree","closeness","katz","current_flow_closeness","harmonic","eigenvector","subgraph","random","clustering"],"range":["#ffd700","#a52a2a","#000000","#9467bd","#ff9896","#98df8a","#ff7f0e","#8c564b","#c5b0d5","#aec7e8","#d62728","#c49c94","#ffbb78","#e377c2","#f7b6d2"]},"legend":{"title":null,"encode":{"symbols":{"update":{"fill":{"scale":"color","field":"value"},"stroke":{"value":"transparent"},"strokeDash":{"value":[]},"opacity":{"value":1}}}}}}},
"layer":[
{"transform":[{"filter":"datum.m !== 'entanglement_large' && datum.m !== 'entanglement_small'"}],"mark":{"type":"line","strokeWidth":1.2}},
{"transform":[{"filter":"datum.m === 'entanglement_large' || datum.m === 'entanglement_small'"}],"mark":{"type":"line","strokeWidth":1.6,"strokeDash":[4,2]}}]},
{"width":182,"height":145,"title":"Erdos-Renyi","data":{"name":"lines"},"transform":[{"filter":{"field":"g","equal":"ER"}}],
"encoding":{"x":{"field":"p","type":"quantitative","scale":{"domain":[-0.05,1.05],"nice":false,"zero":false},"axis":{"values":[0,0.25,0.5,0.75,1],"format":".2f","title":null,"labelOverlap":false}},
"y":{"field":"r","type":"quantitative","scale":{"domain":[-0.05,1.05],"nice":false,"zero":false},"axis":null},
"color":{"field":"m","type":"nominal","scale":{"domain":["entanglement_large","entanglement_mid","entanglement_small","betweenness","load","pagerank","degree","closeness","katz","current_flow_closeness","harmonic","eigenvector","subgraph","random","clustering"],"range":["#ffd700","#a52a2a","#000000","#9467bd","#ff9896","#98df8a","#ff7f0e","#8c564b","#c5b0d5","#aec7e8","#d62728","#c49c94","#ffbb78","#e377c2","#f7b6d2"]},"legend":{"title":null}}},
"layer":[
{"transform":[{"filter":"datum.m !== 'entanglement_large' && datum.m !== 'entanglement_small'"}],"mark":{"type":"line","strokeWidth":1.2}},
{"transform":[{"filter":"datum.m === 'entanglement_large' || datum.m === 'entanglement_small'"}],"mark":{"type":"line","strokeWidth":1.6,"strokeDash":[4,2]}}]},
{"width":182,"height":145,"title":"Random Geometric","data":{"name":"lines"},"transform":[{"filter":{"field":"g","equal":"RG"}}],
"encoding":{"x":{"field":"p","type":"quantitative","scale":{"domain":[-0.05,1.05],"nice":false,"zero":false},"axis":{"values":[0,0.25,0.5,0.75,1],"format":".2f","title":"removed fraction, p","titleFontSize":13.5,"titlePadding":8,"labelOverlap":false}},
"y":{"field":"r","type":"quantitative","scale":{"domain":[-0.05,1.05],"nice":false,"zero":false},"axis":null},
"color":{"field":"m","type":"nominal","scale":{"domain":["entanglement_large","entanglement_mid","entanglement_small","betweenness","load","pagerank","degree","closeness","katz","current_flow_closeness","harmonic","eigenvector","subgraph","random","clustering"],"range":["#ffd700","#a52a2a","#000000","#9467bd","#ff9896","#98df8a","#ff7f0e","#8c564b","#c5b0d5","#aec7e8","#d62728","#c49c94","#ffbb78","#e377c2","#f7b6d2"]},"legend":{"title":null}}},
"layer":[
{"transform":[{"filter":"datum.m !== 'entanglement_large' && datum.m !== 'entanglement_small'"}],"mark":{"type":"line","strokeWidth":1.2}},
{"transform":[{"filter":"datum.m === 'entanglement_large' || datum.m === 'entanglement_small'"}],"mark":{"type":"line","strokeWidth":1.6,"strokeDash":[4,2]}}]},
{"width":182,"height":145,"title":"Stochastic Block Model","data":{"name":"lines"},"transform":[{"filter":{"field":"g","equal":"SBM"}}],
"encoding":{"x":{"field":"p","type":"quantitative","scale":{"domain":[-0.05,1.05],"nice":false,"zero":false},"axis":{"values":[0,0.25,0.5,0.75,1],"format":".2f","title":null,"labelOverlap":false}},
"y":{"field":"r","type":"quantitative","scale":{"domain":[-0.05,1.05],"nice":false,"zero":false},"axis":null},
"color":{"field":"m","type":"nominal","scale":{"domain":["entanglement_large","entanglement_mid","entanglement_small","betweenness","load","pagerank","degree","closeness","katz","current_flow_closeness","harmonic","eigenvector","subgraph","random","clustering"],"range":["#ffd700","#a52a2a","#000000","#9467bd","#ff9896","#98df8a","#ff7f0e","#8c564b","#c5b0d5","#aec7e8","#d62728","#c49c94","#ffbb78","#e377c2","#f7b6d2"]},"legend":{"title":null}}},
"layer":[
{"transform":[{"filter":"datum.m !== 'entanglement_large' && datum.m !== 'entanglement_small'"}],"mark":{"type":"line","strokeWidth":1.2}},
{"transform":[{"filter":"datum.m === 'entanglement_large' || datum.m === 'entanglement_small'"}],"mark":{"type":"line","strokeWidth":1.6,"strokeDash":[4,2]}}]},
{"width":182,"height":145,"title":"Watts-Strogatz","data":{"name":"lines"},"transform":[{"filter":{"field":"g","equal":"WS"}}],
"encoding":{"x":{"field":"p","type":"quantitative","scale":{"domain":[-0.05,1.05],"nice":false,"zero":false},"axis":{"values":[0,0.25,0.5,0.75,1],"format":".2f","title":null,"labelOverlap":false}},
"y":{"field":"r","type":"quantitative","scale":{"domain":[-0.05,1.05],"nice":false,"zero":false},"axis":null},
"color":{"field":"m","type":"nominal","scale":{"domain":["entanglement_large","entanglement_mid","entanglement_small","betweenness","load","pagerank","degree","closeness","katz","current_flow_closeness","harmonic","eigenvector","subgraph","random","clustering"],"range":["#ffd700","#a52a2a","#000000","#9467bd","#ff9896","#98df8a","#ff7f0e","#8c564b","#c5b0d5","#aec7e8","#d62728","#c49c94","#ffbb78","#e377c2","#f7b6d2"]},"legend":{"title":null}}},
"layer":[
{"transform":[{"filter":"datum.m !== 'entanglement_large' && datum.m !== 'entanglement_small'"}],"mark":{"type":"line","strokeWidth":1.2}},
{"transform":[{"filter":"datum.m === 'entanglement_large' || datum.m === 'entanglement_small'"}],"mark":{"type":"line","strokeWidth":1.6,"strokeDash":[4,2]}}]},
{"width":182,"height":145,"data":{"name":"bars"},"transform":[{"filter":{"field":"g","equal":"BA"}}],"mark":{"type":"bar","stroke":"white","strokeWidth":0.5},
"encoding":{"x":{"field":"m","type":"nominal","sort":null,"scale":{"domain":["entanglement_large","entanglement_mid","entanglement_small","betweenness","load","pagerank","degree","closeness","katz","current_flow_closeness","harmonic","eigenvector","subgraph","random","clustering"],"paddingInner":0.2,"paddingOuter":0.74},"axis":{"title":null,"labelAngle":-90,"labelFontSize":10.5,"labelPadding":2}},
"y":{"field":"cf","type":"quantitative","scale":{"domain":[0,1],"nice":false},"axis":{"values":[0,0.25,0.5,0.75,1],"format":".2f","title":"Critical fraction","labelOverlap":false}},
"color":{"field":"m","type":"nominal","scale":{"domain":["entanglement_large","entanglement_mid","entanglement_small","betweenness","load","pagerank","degree","closeness","katz","current_flow_closeness","harmonic","eigenvector","subgraph","random","clustering"],"range":["#ffd700","#a52a2a","#000000","#9467bd","#ff9896","#98df8a","#ff7f0e","#8c564b","#c5b0d5","#aec7e8","#d62728","#c49c94","#ffbb78","#e377c2","#f7b6d2"]},"legend":{"title":null}}}},
{"width":182,"height":145,"data":{"name":"bars"},"transform":[{"filter":{"field":"g","equal":"ER"}}],"mark":{"type":"bar","stroke":"white","strokeWidth":0.5},
"encoding":{"x":{"field":"m","type":"nominal","sort":null,"scale":{"domain":["entanglement_large","entanglement_mid","entanglement_small","betweenness","load","pagerank","degree","closeness","katz","current_flow_closeness","harmonic","eigenvector","subgraph","random","clustering"],"paddingInner":0.2,"paddingOuter":0.74},"axis":{"title":null,"labelAngle":-90,"labelFontSize":10.5,"labelPadding":2}},
"y":{"field":"cf","type":"quantitative","scale":{"domain":[0,1],"nice":false},"axis":null},
"color":{"field":"m","type":"nominal","scale":{"domain":["entanglement_large","entanglement_mid","entanglement_small","betweenness","load","pagerank","degree","closeness","katz","current_flow_closeness","harmonic","eigenvector","subgraph","random","clustering"],"range":["#ffd700","#a52a2a","#000000","#9467bd","#ff9896","#98df8a","#ff7f0e","#8c564b","#c5b0d5","#aec7e8","#d62728","#c49c94","#ffbb78","#e377c2","#f7b6d2"]},"legend":{"title":null}}}},
{"width":182,"height":145,"title":{"text":"(b)","font":"Lato","fontSize":20,"fontWeight":"bold","offset":10},"data":{"name":"bars"},"transform":[{"filter":{"field":"g","equal":"RG"}}],"mark":{"type":"bar","stroke":"white","strokeWidth":0.5},
"encoding":{"x":{"field":"m","type":"nominal","sort":null,"scale":{"domain":["entanglement_large","entanglement_mid","entanglement_small","betweenness","load","pagerank","degree","closeness","katz","current_flow_closeness","harmonic","eigenvector","subgraph","random","clustering"],"paddingInner":0.2,"paddingOuter":0.74},"axis":{"title":null,"labelAngle":-90,"labelFontSize":10.5,"labelPadding":2}},
"y":{"field":"cf","type":"quantitative","scale":{"domain":[0,1],"nice":false},"axis":null},
"color":{"field":"m","type":"nominal","scale":{"domain":["entanglement_large","entanglement_mid","entanglement_small","betweenness","load","pagerank","degree","closeness","katz","current_flow_closeness","harmonic","eigenvector","subgraph","random","clustering"],"range":["#ffd700","#a52a2a","#000000","#9467bd","#ff9896","#98df8a","#ff7f0e","#8c564b","#c5b0d5","#aec7e8","#d62728","#c49c94","#ffbb78","#e377c2","#f7b6d2"]},"legend":{"title":null}}}},
{"width":182,"height":145,"data":{"name":"bars"},"transform":[{"filter":{"field":"g","equal":"SBM"}}],"mark":{"type":"bar","stroke":"white","strokeWidth":0.5},
"encoding":{"x":{"field":"m","type":"nominal","sort":null,"scale":{"domain":["entanglement_large","entanglement_mid","entanglement_small","betweenness","load","pagerank","degree","closeness","katz","current_flow_closeness","harmonic","eigenvector","subgraph","random","clustering"],"paddingInner":0.2,"paddingOuter":0.74},"axis":{"title":null,"labelAngle":-90,"labelFontSize":10.5,"labelPadding":2}},
"y":{"field":"cf","type":"quantitative","scale":{"domain":[0,1],"nice":false},"axis":null},
"color":{"field":"m","type":"nominal","scale":{"domain":["entanglement_large","entanglement_mid","entanglement_small","betweenness","load","pagerank","degree","closeness","katz","current_flow_closeness","harmonic","eigenvector","subgraph","random","clustering"],"range":["#ffd700","#a52a2a","#000000","#9467bd","#ff9896","#98df8a","#ff7f0e","#8c564b","#c5b0d5","#aec7e8","#d62728","#c49c94","#ffbb78","#e377c2","#f7b6d2"]},"legend":{"title":null}}}},
{"width":182,"height":145,"data":{"name":"bars"},"transform":[{"filter":{"field":"g","equal":"WS"}}],"mark":{"type":"bar","stroke":"white","strokeWidth":0.5},
"encoding":{"x":{"field":"m","type":"nominal","sort":null,"scale":{"domain":["entanglement_large","entanglement_mid","entanglement_small","betweenness","load","pagerank","degree","closeness","katz","current_flow_closeness","harmonic","eigenvector","subgraph","random","clustering"],"paddingInner":0.2,"paddingOuter":0.74},"axis":{"title":null,"labelAngle":-90,"labelFontSize":10.5,"labelPadding":2}},
"y":{"field":"cf","type":"quantitative","scale":{"domain":[0,1],"nice":false},"axis":null},
"color":{"field":"m","type":"nominal","scale":{"domain":["entanglement_large","entanglement_mid","entanglement_small","betweenness","load","pagerank","degree","closeness","katz","current_flow_closeness","harmonic","eigenvector","subgraph","random","clustering"],"range":["#ffd700","#a52a2a","#000000","#9467bd","#ff9896","#98df8a","#ff7f0e","#8c564b","#c5b0d5","#aec7e8","#d62728","#c49c94","#ffbb78","#e377c2","#f7b6d2"]},"legend":{"title":null}}}}
],
"config":{
"font":"DejaVu Sans",
"view":{"stroke":"#cccccc","strokeWidth":1},
"axis":{"ticks":false,"domain":false,"grid":false,"labelFont":"DejaVu Sans","labelFontSize":12.5,"labelColor":"#262626","labelPadding":2,"titleFont":"DejaVu Sans","titleFontSize":15,"titleFontWeight":"bold","titleColor":"#000000","titlePadding":-1},
"title":{"font":"DejaVu Sans","fontSize":15,"fontWeight":"bold","color":"#000000","offset":5},
"legend":{"orient":"none","legendX":1059,"legendY":50,"labelFont":"DejaVu Sans","labelFontSize":11.8,"labelColor":"#262626","symbolType":"M-1,-0.875H5V0.875H-1Z","symbolSize":64,"symbolStrokeWidth":0,"rowPadding":4.3,"labelOffset":21,"padding":5,"strokeColor":"#dddddd","cornerRadius":3,"fillColor":"#ffffff","labelLimit":300}
}
}
